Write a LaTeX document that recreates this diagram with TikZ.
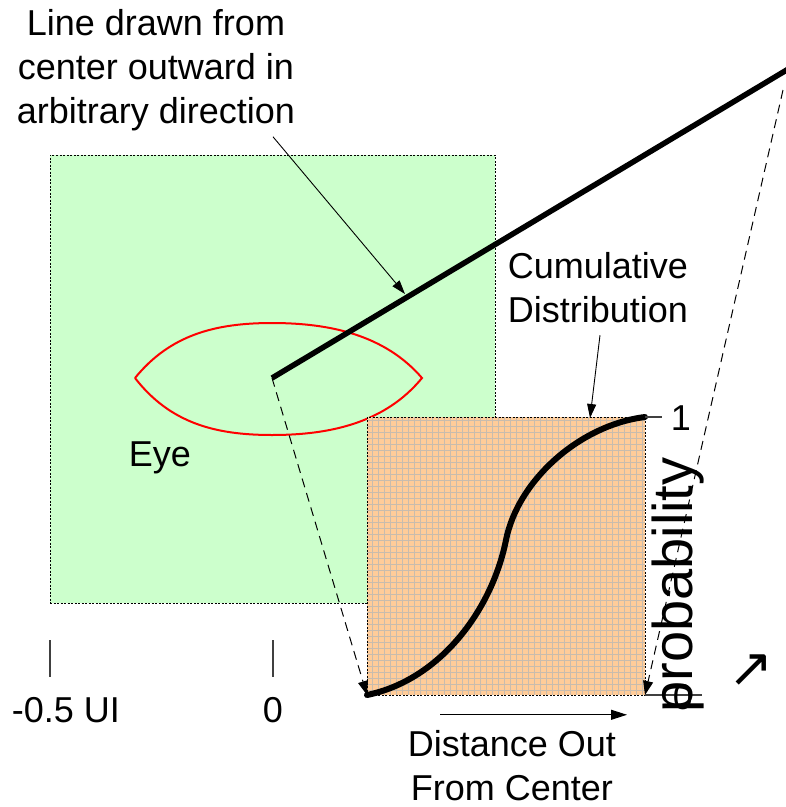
\documentclass[tikz,border=0pt]{standalone}
\usepackage{fontspec}
\setmainfont{Liberation Sans}
\newfontfamily\symfont{DejaVu Sans}
\usepackage{tikz}
\usetikzlibrary{arrows.meta, positioning}
\definecolor{eyegreen}{HTML}{CCFFCC}
\definecolor{plotorange}{HTML}{FFCC99}
\definecolor{gridgrey}{HTML}{C8BCAE}
\definecolor{eyered}{HTML}{FF0000}

\begin{document}
\begin{tikzpicture}[x=1pt, y=-1pt, font=\fontsize{36}{44}\selectfont,
  every node/.style={inner sep=0pt, outer sep=0pt},
  areabox/.style={draw, line width=0.8pt, dash pattern=on 2pt off 1.5pt},
  callout/.style={-{Triangle[length=14pt,width=9pt]}, line width=0.9pt},
  projline/.style={-{Triangle[length=14pt,width=10pt]}, line width=1pt, dash pattern=on 9pt off 6pt},
  tickline/.style={line width=1.5pt, black!75}]
\useasboundingbox (0,0) rectangle (786,807);

% eye area
\node[areabox, fill=eyegreen, minimum width=445pt, minimum height=448pt] (eyearea) at (272.5,379) {};
\coordinate (ctr) at (272,378);
\coordinate (farend) at (790,68);
\coordinate (farproj) at (783,90);
\draw[eyered, line width=2pt] (135,378) .. controls (170,335) and (215,323) .. (272,323)
  .. controls (330,323) and (385,335) .. (422,378)
  .. controls (385,423) and (330,435) .. (272,435)
  .. controls (215,435) and (170,423) .. (135,378);
\node (eyelbl) at (160,458) {Eye};

% cumulative distribution plot
\node[fill=plotorange, minimum width=278pt, minimum height=278pt] (plot) at (506,556) {};
\draw[gridgrey, line width=0.5pt, step=6pt] (plot.south west) grid (plot.north east);
\draw[areabox] (plot.south west) rectangle (plot.north east);
\draw[line width=6pt, line cap=round] (plot.south west) .. controls (440,680) and (492,610) .. (506,540)
  .. controls (518,480) and (580,425) .. (plot.north east);

% line from center
\draw[line width=5.5pt] (ctr) -- (farend);
\draw[projline] (ctr) -- (plot.south west);
\draw[projline] (farproj) -- (plot.south east);

\node[align=center] (linetxt) at (156,70) {Line drawn from\\center outward in\\arbitrary direction};
\coordinate (linetip) at (405,294);
\draw[callout] ([xshift=117pt,yshift=-6pt]linetxt.south) -- (linetip);

\node[align=center] (cumtxt) at (598,288) {Cumulative\\Distribution};
\coordinate (cumtip) at (590,418);
\draw[callout] ([xshift=2pt,yshift=-12pt]cumtxt.south) -- (cumtip);

\node[align=center] (disttxt) at (512,766) {Distance Out\\From Center};
\draw[-{Triangle[length=16pt,width=10pt]}, line width=1pt]
  ([xshift=-72pt,yshift=16pt]disttxt.north) -- ([xshift=115pt,yshift=16pt]disttxt.north);

% axis ticks
\draw[tickline] (50,640) -- (50,677);
\draw[tickline] (273,640) -- (273,677);
\node (lblhalf) at (66,710) {-0.5 UI};
\node (lblzero) at (273,710) {0};
\draw[tickline] (plot.north east) -- ++(17,0);
\draw[tickline] (plot.south east) -- ++(57,0);
\node (lblone) at (681,418) {1};
\node (lblnil) at (683,697) {0};
\node[rotate=90, font=\fontsize{56}{60}\selectfont] (problbl) at (678,585) {probability};
\node[font=\symfont\fontsize{54}{54}\selectfont] (diagarrow) at (751,671) {↗};
\end{tikzpicture}
\end{document}
